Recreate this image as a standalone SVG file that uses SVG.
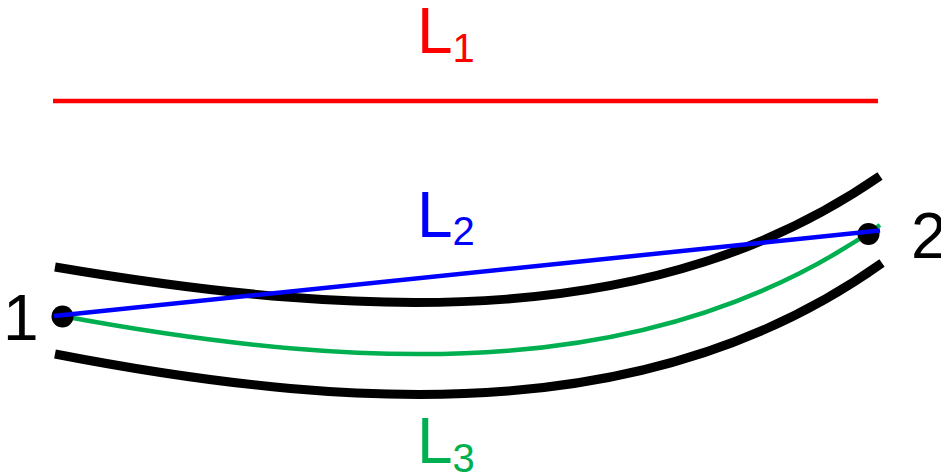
<svg xmlns="http://www.w3.org/2000/svg" width="941" height="475" viewBox="0 0 941 475">
<style>
.lbl{font-family:"Liberation Sans",Arial,sans-serif;font-size:64px}
.sub{font-size:40px}
.arc{fill:none;stroke:#000;stroke-width:9}
</style>
<rect width="941" height="475" fill="#fff"/>
<g id="arcs">
<path class="arc" d="M55,267 C380,322 660,328 880,176"/>
<path class="arc" d="M55,354 C380,417 662,420 882,263"/>
</g>
<g id="connectors">
<line id="L1-line" x1="53" y1="101" x2="878" y2="101" stroke="#FF0000" stroke-width="4.5"/>
<path id="L3-path" d="M62,316 C380,375 660,380 880,225" fill="none" stroke="#00B050" stroke-width="4.5"/>
</g>
<g id="node1"><circle cx="62.5" cy="316.5" r="11" fill="#000"/><text class="lbl" x="3" y="340">1</text></g>
<g id="node2"><circle cx="868.5" cy="234" r="11" fill="#000"/><text class="lbl" x="911" y="258">2</text></g>
<g id="L2-conn"><line x1="54" y1="316" x2="880" y2="230.5" stroke="#0000FF" stroke-width="4.5"/></g>
<g id="labels">
<text class="lbl" x="417" y="53" fill="#FF0000">L<tspan class="sub" y="62">1</tspan></text>
<text class="lbl" x="417" y="237" fill="#0000FF">L<tspan class="sub" y="245">2</tspan></text>
<text class="lbl" x="417" y="463" fill="#00B050">L<tspan class="sub" y="472">3</tspan></text>
</g>
</svg>
